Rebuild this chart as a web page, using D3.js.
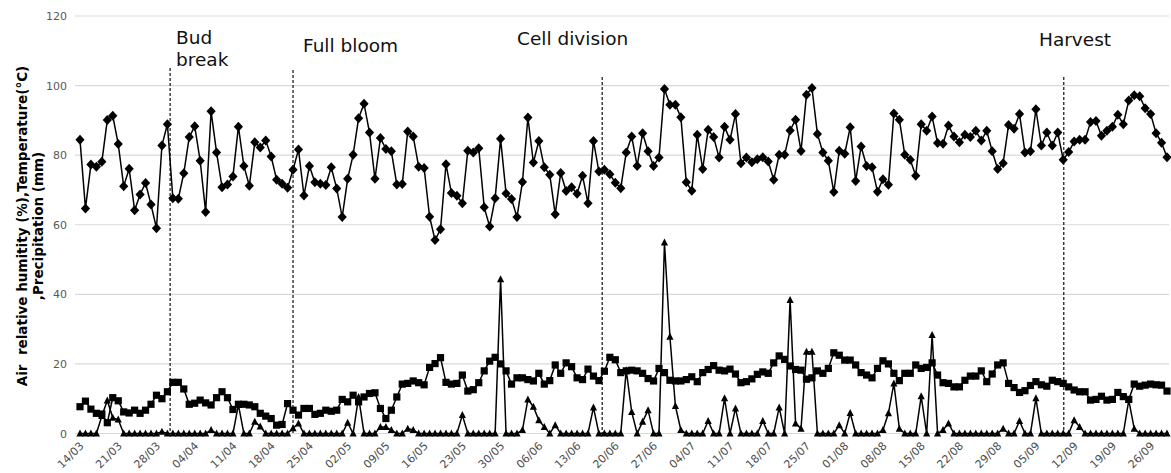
<!DOCTYPE html>
<html>
<head>
<meta charset="utf-8">
<script src="https://cdn.jsdelivr.net/npm/d3@7"></script>
<style>
  html, body { margin: 0; padding: 0; background: #fff; }
  svg { display: block; }
  text { font-family: "DejaVu Sans", Verdana, sans-serif; }
</style>
</head>
<body>
<svg id="chart" width="1171" height="473"></svg>
<script>
// ---- data (daily, 14/03 .. 29/09) ----
const startDate = "14/03";
const tickLabels = ["14/03","21/03","28/03","04/04","11/04","18/04","25/04","02/05","09/05","16/05","23/05","30/05","06/06","13/06","20/06","27/06","04/07","11/07","18/07","25/07","01/08","08/08","15/08","22/08","29/08","05/09","12/09","19/09","26/09"];

const humidity = [
  84.4,64.7,77.3,76.7,78.1,90.1,91.3,83.2,71.1,76.1,
  64.2,68.7,72.0,65.8,59.0,82.8,88.9,67.6,67.5,74.8,
  85.2,88.3,78.4,63.7,92.6,80.8,70.8,71.6,73.9,88.2,
  76.9,71.2,83.7,82.2,84.2,79.6,72.9,71.8,70.6,75.8,
  81.6,68.4,76.9,72.2,71.8,71.4,76.5,70.4,62.2,73.2,
  80.1,90.6,94.8,86.5,73.2,84.9,81.8,81.1,71.6,71.7,
  86.8,85.4,76.7,76.3,62.3,55.6,58.7,77.4,69.1,68.3,
  66.2,81.3,80.8,82.0,65.0,59.5,67.6,84.7,69.0,67.4,
  62.2,72.3,90.8,77.9,84.1,76.5,74.4,63.0,74.9,69.7,
  70.8,68.9,74.1,66.2,84.1,75.3,75.8,74.5,72.1,70.5,
  80.8,85.4,76.9,86.3,81.1,76.9,79.3,99.0,94.5,94.5,
  90.9,72.2,69.8,85.9,76.0,87.3,85.2,79.3,88.2,84.4,
  91.8,77.7,79.3,78.0,78.8,79.4,78.2,72.9,80.1,80.1,
  87.1,90.2,81.2,97.4,99.3,86.1,80.8,78.4,69.4,81.3,
  80.4,88.0,72.6,82.5,76.9,76.5,69.5,73.1,71.5,92.0,
  90.2,80.1,78.7,74.1,88.9,87.0,91.1,83.5,83.3,88.5,
  85.4,83.7,85.9,85.2,87.0,84.2,87.0,81.1,76.0,77.7,
  88.7,87.6,91.8,80.8,81.1,93.2,82.8,86.5,82.8,86.5,
  78.7,80.9,83.9,84.4,84.4,89.5,89.8,85.6,87.0,88.2,
  91.6,88.9,95.7,97.2,96.9,93.5,91.8,86.3,83.6,79.4
];

const temperature = [
  7.7,9.3,7.0,5.8,5.6,3.1,10.3,9.4,6.2,5.9,
  6.7,5.8,6.7,8.4,11.0,10.0,12.0,14.7,14.7,12.8,
  8.4,8.7,9.6,8.8,8.2,10.3,12.0,10.3,6.9,8.4,
  8.4,8.2,7.7,5.8,5.0,4.3,2.4,2.6,8.6,6.7,
  5.3,7.2,7.2,5.5,5.8,6.7,6.4,6.7,9.8,9.1,
  11.0,9.1,10.5,11.5,11.7,7.2,4.3,6.7,10.5,14.2,
  14.4,15.1,14.6,14.0,19.0,20.1,21.8,14.7,14.2,14.4,
  16.8,12.2,12.6,14.6,18.0,20.8,21.9,20.0,18.0,14.2,
  16.0,16.0,15.5,15.1,17.3,14.2,15.2,19.7,17.3,20.3,
  19.2,16.0,15.5,18.5,16.5,15.2,17.9,21.9,21.2,17.5,
  18.0,18.2,18.0,17.3,15.8,15.1,18.7,17.5,15.3,15.1,
  15.1,15.5,16.3,14.9,17.5,18.4,19.5,18.2,18.0,18.5,
  17.1,14.6,14.9,15.7,17.0,17.7,17.3,20.3,22.3,21.3,
  19.4,18.4,18.2,15.6,16.0,18.0,17.3,18.7,23.2,22.5,
  21.1,21.1,19.7,17.5,16.8,16.0,18.7,20.9,20.0,17.3,
  15.2,17.3,17.3,19.7,18.7,19.0,20.3,16.8,14.6,14.4,
  13.4,13.4,15.3,16.5,16.5,18.0,14.9,17.1,19.7,20.3,
  14.4,13.2,11.8,12.3,13.8,14.9,14.0,13.6,15.3,14.9,
  14.4,13.4,12.5,12.0,12.0,9.6,9.8,10.7,9.6,9.8,
  11.8,10.6,9.8,14.2,13.6,13.9,14.2,14.0,13.9,12.2
];

const precipitation = [
  0,0,0,0,5.0,9.5,4.5,4.0,0,0,
  0,0,0,0,0,0.5,0,0,0,0,
  0,0,0,0,1.0,0,0,0,0,8.2,
  0,0,3.4,2.0,0,0,0,0,0,1.5,
  2.9,0,0,0,0,0,0,0,0,3.1,
  0,10.5,0,0,0,1.9,1.9,1.0,0,0,
  1.4,1.0,0,0,0,0,0,0,0,0,
  5.3,0,0,0,0,0,0,44.3,0,0,
  0,1.0,9.8,7.7,3.8,1.9,0,2.4,0,0,
  0,0,0,0,7.5,0,0,0,0,0,
  18.2,6.2,0,3.4,6.7,0,0,54.9,27.8,7.9,
  1.0,0,0,0,0,3.6,0,0,10.1,0,
  7.2,0,0,0,0,3.6,0,0,7.5,0,
  38.4,2.9,1.4,23.5,23.5,0,0,0,0,2.4,
  0,5.9,0,0,0,0,0,1.0,5.8,14.4,
  1.4,0,0,0,10.7,0,28.3,0,1.0,2.9,
  0,0,0,0,0,0,0,0,0,1.4,
  0,0,3.6,0,0,10.1,0,0,0,0,
  0,0,3.8,1.9,0,0,0,0,0,0,
  0,0,9.6,1.4,0,0,0,0,0,0
];

const yTicks = [0,20,40,60,80,100,120];
const stages = ["Bud break","Full bloom","Cell division","Harvest"];
const stageDay = [16.5, 39.0, 95.6, 180.1];

// ---- layout ----
const svg = d3.select("#chart");
const plotL = 75, plotR = 1169;
const x = d3.scaleLinear().domain([0, humidity.length - 1]).range([80, 1167]);
const y = d3.scaleLinear().domain([0, 120]).range([433.5, 16]);

// gridlines
svg.append("g").selectAll("line").data(yTicks).join("line")
  .attr("x1", plotL).attr("x2", plotR)
  .attr("y1", d => y(d)).attr("y2", d => y(d))
  .attr("stroke", "#d9d9d9").attr("stroke-width", 1.2);

// y axis
const yAxis = d3.axisLeft(y).tickValues(yTicks).tickSize(0).tickPadding(8);
const gy = svg.append("g").attr("transform", `translate(${plotL},0)`).call(yAxis);
gy.select(".domain").remove();
gy.selectAll("text").attr("fill", "#595959").style("font-size", "11px")
  .style("font-family", "DejaVu Sans, Verdana, sans-serif");

// x axis
const tickIdx = tickLabels.map((_, i) => i * 7);
const xAxis = d3.axisBottom(x).tickValues(tickIdx).tickFormat((d, i) => tickLabels[i]).tickSize(0).tickPadding(0);
const gx = svg.append("g").attr("transform", `translate(0,${y(0)})`).call(xAxis);
gx.select(".domain").remove();
gx.selectAll("text")
  .attr("fill", "#4d4d4d").style("font-size", "11px")
  .style("font-family", "DejaVu Sans, Verdana, sans-serif")
  .attr("text-anchor", "end")
  .attr("dy", null).attr("y", 0)
  .attr("transform", "translate(4,13) rotate(-45)");

// stage dashed lines and labels
const lineTop = [68, 70, 77, 77];
svg.append("g").selectAll("line").data(stageDay).join("line")
  .attr("x1", d => x(d)).attr("x2", d => x(d))
  .attr("y1", (d, i) => lineTop[i]).attr("y2", y(0))
  .attr("stroke", "#222").attr("stroke-width", 1.3).attr("stroke-dasharray", "3,2");

const lab = svg.append("g").style("font-size", "18.5px").attr("fill", "#111");
lab.append("text").attr("x", 176).attr("y", 44).text("Bud");
lab.append("text").attr("x", 176).attr("y", 66).text("break");
lab.append("text").attr("x", 303).attr("y", 52).text("Full bloom");
lab.append("text").attr("x", 517).attr("y", 45).text("Cell division");
lab.append("text").attr("x", 1039).attr("y", 45.5).text("Harvest");

// y title
const title = svg.append("g").attr("transform", "translate(0,226) rotate(-90)")
  .style("font-size", "13.5px").style("font-weight", "bold").attr("fill", "#000")
  .attr("text-anchor", "middle");
title.append("text").attr("x", 0).attr("y", 27).attr("xml:space", "preserve").text("Air  relative humitity (%),Temperature(°C)");
title.append("text").attr("x", 0).attr("y", 43).text(",Precipitation (mm)");

// series
const line = d3.line().x((d, i) => x(i)).y(d => y(d));
const series = [
  { data: precipitation, shape: "M0,-4L3.6,3L-3.6,3Z" },
  { data: temperature, shape: "M-3.6,-3.6H3.6V3.6H-3.6Z" },
  { data: humidity, shape: "M0,-5L4.6,0L0,5L-4.6,0Z" }
];
series.forEach(s => {
  const g = svg.append("g");
  g.append("path").datum(s.data).attr("d", line)
    .attr("fill", "none").attr("stroke", "#000").attr("stroke-width", 1.5);
  g.selectAll("path.m").data(s.data).join("path").attr("class", "m")
    .attr("transform", (d, i) => `translate(${x(i)},${y(d)})`)
    .attr("d", s.shape).attr("fill", "#000");
});
</script>
</body>
</html>
